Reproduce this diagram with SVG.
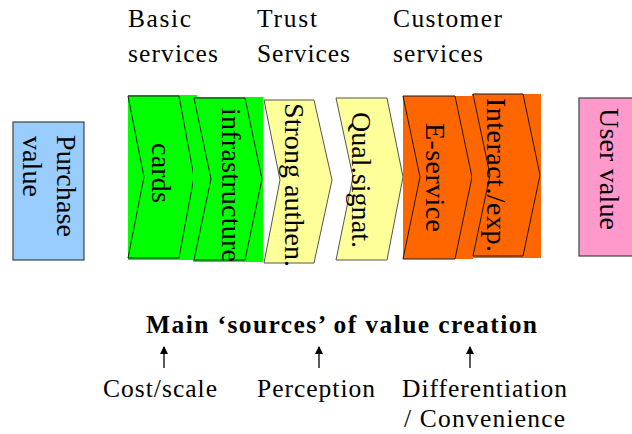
<svg xmlns="http://www.w3.org/2000/svg" width="632" height="434" viewBox="0 0 632 434">
<style>
text{font-family:"Liberation Serif","Times New Roman",serif;fill:#000}
.h{font-size:25.5px}
.r{font-size:28px}
.b{font-size:25.5px;font-weight:bold}
.box{stroke:#404040;stroke-width:1.2}
.chev{stroke:#1a1a1a;stroke-width:1}
.ychev{stroke:#555;stroke-width:1;fill:#ffff99}
.green{fill:#00ff00}
.orange{fill:#ff6600}
.arr{stroke:#000;stroke-width:1.3}
</style>
<defs>
<marker id="ah" markerWidth="8" markerHeight="8" viewBox="0 0 8 8" refX="7" refY="4" orient="auto" markerUnits="userSpaceOnUse">
<path d="M0,0 L8,4 L0,8 z" fill="#000"/>
</marker>
</defs>

<g id="header-labels">
<text class="h" x="128" y="27" textLength="63">Basic</text>
<text class="h" x="128" y="62" textLength="90">services</text>
<text class="h" x="257" y="27" textLength="60">Trust</text>
<text class="h" x="257" y="62" textLength="93">Services</text>
<text class="h" x="393" y="27" textLength="109">Customer</text>
<text class="h" x="393" y="62" textLength="90">services</text>
</g>

<g id="purchase-value">
<rect class="box" x="13" y="122" width="71" height="138" fill="#99ccff"/>
<text class="r" transform="translate(57,135) rotate(90)" textLength="102">Purchase</text>
<text class="r" transform="translate(23,136) rotate(90)" textLength="61">value</text>
</g>

<g id="cards">
<rect class="green" x="128" y="95" width="69" height="165"/>
<polygon class="chev green" points="128,96 179,96 194,177 179,258 128,258 144,177"/>
<text class="r" transform="translate(152,143) rotate(90)" textLength="60">cards</text>
</g>

<g id="infrastructure">
<rect class="green" x="193" y="97" width="70" height="165"/>
<polygon class="chev green" points="194,98 245,98 262,179 245,260 194,260 211,179"/>
<text class="r" transform="translate(222,108) rotate(90)" textLength="154">infrastructure</text>
</g>

<g id="strong-authen">
<polygon class="ychev" points="264,100 314,100 332,180 314,263 264,263 280,180"/>
<text class="r" transform="translate(285,103) rotate(90)" textLength="164">Strong authen.</text>
</g>

<g id="qual-signat">
<polygon class="ychev" points="336,98 387,98 403,177 387,260 336,260 353,177"/>
<text class="r" transform="translate(352,112) rotate(90)" textLength="136">Qual.signat.</text>
</g>

<g id="e-service">
<rect class="orange" x="403" y="96" width="70" height="163"/>
<polygon class="chev orange" points="403,96 455,96 472,177 455,259 403,259 420,177"/>
<text class="r" transform="translate(426,123) rotate(90)" textLength="109">E-service</text>
</g>

<g id="interact-exp">
<rect class="orange" x="472" y="94" width="69" height="164"/>
<polygon class="chev orange" points="473,94 523,94 540,175 523,256 473,256 490,175"/>
<text class="r" transform="translate(487,98) rotate(90)" textLength="154">Interact./exp.</text>
</g>

<g id="user-value">
<rect class="box" x="579" y="98" width="60" height="158" fill="#ff99cc"/>
<text class="r" transform="translate(600,108) rotate(90)" textLength="122">User value</text>
</g>

<g id="title">
<text class="b" x="146" y="333" textLength="391">Main ‘sources’ of value creation</text>
</g>

<g id="connectors">
<line class="arr" x1="164" y1="368" x2="164" y2="347" marker-end="url(#ah)"/>
<line class="arr" x1="319" y1="368" x2="319" y2="347" marker-end="url(#ah)"/>
<line class="arr" x1="470" y1="368" x2="470" y2="347" marker-end="url(#ah)"/>
</g>

<g id="source-labels">
<text class="h" x="103" y="397" textLength="114">Cost/scale</text>
<text class="h" x="257" y="397" textLength="118">Perception</text>
<text class="h" x="402" y="397" textLength="165">Differentiation</text>
<text class="h" x="404" y="427" textLength="161">/ Convenience</text>
</g>
</svg>
